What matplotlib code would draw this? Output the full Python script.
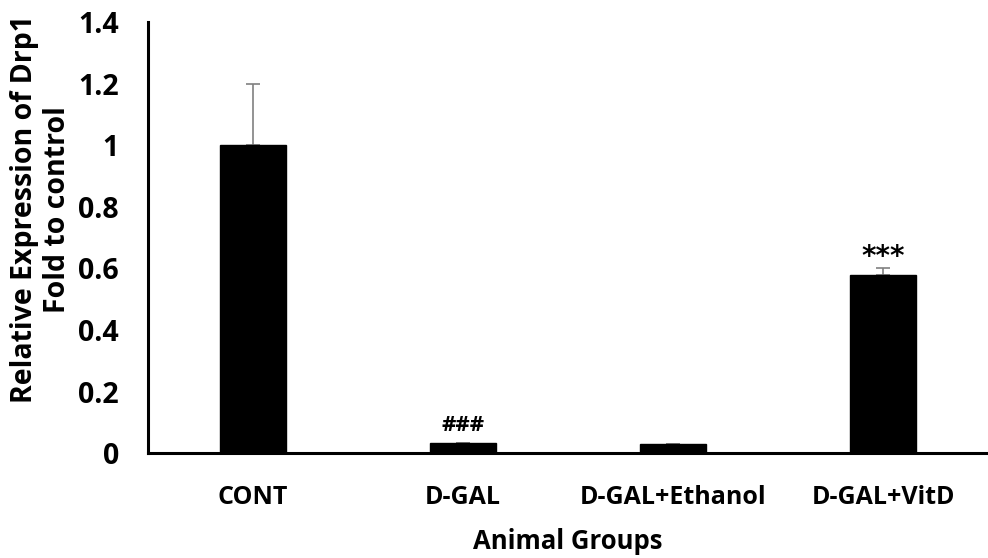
import matplotlib
matplotlib.use("Agg")
import matplotlib.pyplot as plt

categories = ["CONT", "D-GAL", "D-GAL+Ethanol", "D-GAL+VitD"]
values = [1.0, 0.032, 0.028, 0.578]
errors = [0.2, 0.002, 0.003, 0.022]
annotations = ["", "###", "", "***"]
yticks = [0, 0.2, 0.4, 0.6, 0.8, 1, 1.2, 1.4]
ytick_labels = ["0", "0.2", "0.4", "0.6", "0.8", "1", "1.2", "1.4"]

plt.rcParams['font.family'] = ['Open Sans', 'DejaVu Sans']

fig = plt.figure(figsize=(9.88, 5.58), dpi=100)
ax = fig.add_axes([0.1498, 0.188, 0.8502, 0.7726])

x = list(range(len(categories)))
ax.bar(x, values, width=0.31, color="black", edgecolor="black", zorder=2)
ax.errorbar(x, values, yerr=[[0]*len(errors), errors], fmt="none",
            ecolor="#808080", elinewidth=1.2, capsize=5, capthick=1.2, zorder=1)

# style: (family, size, weight, gap above error bar in data units)
ann_style = {"###": (["Open Sans"], 16, "bold", 0.02),
             "***": (["DejaVu Sans"], 20, "bold", -0.01)}
for xi, v, e, a in zip(x, values, errors, annotations):
    if a:
        fam, fs, fw, gap = ann_style[a]
        ax.text(xi, v + e + gap, a, ha="center", va="bottom", fontsize=fs,
                fontweight=fw, color="black", family=fam)

ax.set_xlim(-0.5, 3.5)
ax.set_ylim(0, 1.4)
ax.set_yticks(yticks)
ax.set_yticklabels(ytick_labels, fontsize=20.5, fontweight="bold")
ax.set_xticks(x)
ax.set_xticklabels(categories, fontsize=18, fontweight="bold")
ax.tick_params(axis="y", length=0, pad=21)
ax.tick_params(axis="x", length=0, pad=23)

for s in ["top", "right"]:
    ax.spines[s].set_visible(False)
ax.spines["left"].set_linewidth(2.2)
ax.spines["bottom"].set_linewidth(2.2)

ax.set_ylabel("Relative Expression of Drp1\nFold to control", fontsize=20.5,
              fontweight="bold", linespacing=1.2)
ax.yaxis.set_label_coords(-0.09, 0.566)
ax.set_xlabel("Animal Groups", fontsize=18.5, fontweight="bold", labelpad=13)

fig.savefig("out.png", dpi=100, facecolor="white")
